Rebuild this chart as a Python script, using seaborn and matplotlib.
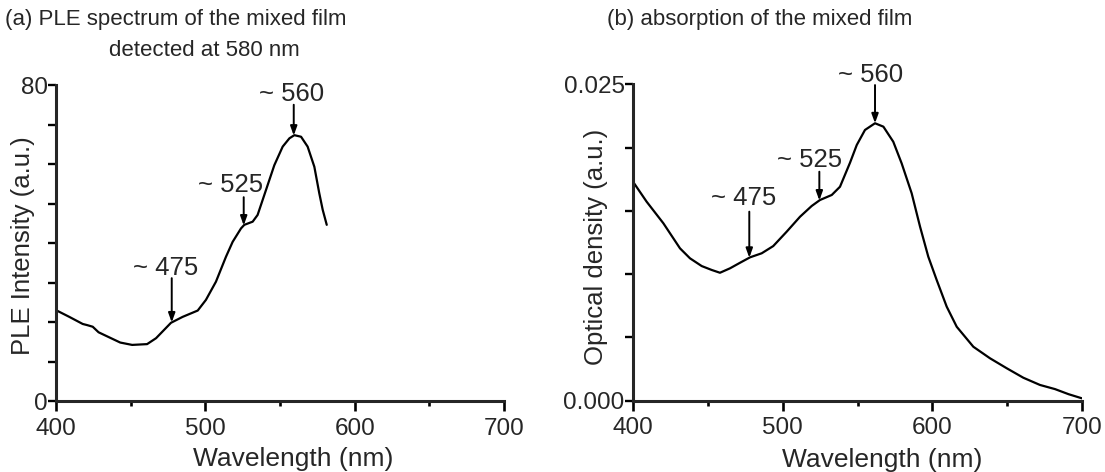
import numpy as np
import pandas as pd
import matplotlib
matplotlib.use("Agg")
import matplotlib.pyplot as plt
from matplotlib.ticker import MultipleLocator, FuncFormatter
import seaborn as sns

# ---- data ----
ple_wavelength = [400, 408.9, 417.9, 421, 424.6, 428.5, 433.5, 443, 451, 461, 467, 477, 484.8,
                  494.9, 500.4, 507.1, 513.8, 518.3, 523.9, 526.1, 531.7, 535, 540.6, 546.2,
                  551.8, 556.3, 559.6, 564.1, 568.5, 573, 576.3, 578.6, 581.3]
ple_intensity = [23.0, 21.3, 19.5, 19.2, 18.8, 17.4, 16.5, 14.8, 14.2, 14.4, 15.9, 19.8, 21.3,
                 22.9, 25.6, 30.2, 36.5, 40.3, 43.7, 44.6, 45.4, 47.1, 53.4, 59.7,
                 64.4, 66.5, 67.3, 66.9, 64.4, 59.3, 52.6, 48.4, 44.6]

abs_wavelength = [400, 409.1, 420.3, 431.4, 438.1, 445.9, 452.6, 458.1, 464.8, 471.5, 478.2,
                  486.0, 493.7, 502.7, 511.6, 519.4, 524.9, 532.8, 538.3, 545.0, 549.5,
                  555.0, 561.7, 567.3, 573.9, 579.5, 586.2, 591.8, 597.3, 602.9, 609.6,
                  616.3, 627.4, 638.5, 649.7, 660.8, 671.9, 682.0, 691.0, 700.0]
abs_density = [0.01730, 0.01572, 0.01401, 0.01203, 0.01124, 0.01063, 0.01032, 0.01010,
               0.01045, 0.01089, 0.01132, 0.01164, 0.01221, 0.01335, 0.01453, 0.01538,
               0.01585, 0.01625, 0.01690, 0.01880, 0.02020, 0.02139, 0.02192, 0.02165,
               0.02046, 0.01875, 0.01638, 0.01374, 0.01137, 0.00953, 0.00742, 0.00583,
               0.00425, 0.00334, 0.00255, 0.00180, 0.00123, 0.00090, 0.00050, 0.00017]

peak_labels = ["~ 475", "~ 525", "~ 560"]
# arrow x (nm), arrow tail height, label centre (nm, value)
ple_arrow_x = [477.5, 525.7, 559.2]
ple_arrow_top = [31.1, 51.6, 75.0]
ple_label_x = [473.7, 517.2, 557.8]
ple_label_y = [33.6, 54.7, 77.7]

abs_arrow_x = [477.7, 524.5, 561.7]
abs_arrow_top = [0.01493, 0.01809, 0.02494]
abs_label_x = [473.7, 518.3, 558.4]
abs_label_y = [0.01599, 0.01901, 0.02574]

title_a1 = "(a) PLE spectrum of the mixed film"
title_a2 = "detected at 580 nm"
title_b = "(b) absorption of the mixed film"

# ---- style ----
sns.set_style("ticks")
plt.rcParams["font.family"] = ["Liberation Sans", "DejaVu Sans"]
plt.rcParams["axes.linewidth"] = 2.2

W, H = 1105, 472
fig = plt.figure(figsize=(W / 100, H / 100), dpi=100)

def frac(x0, y0, x1, y1):
    return [x0 / W, 1 - y1 / H, (x1 - x0) / W, (y1 - y0) / H]

ax1 = fig.add_axes(frac(56, 85, 504, 401))
ax2 = fig.add_axes(frac(633, 84.3, 1082, 400.5))

df_ple = pd.DataFrame({"wl": ple_wavelength, "val": ple_intensity})
df_abs = pd.DataFrame({"wl": abs_wavelength, "val": abs_density})

sns.lineplot(data=df_ple, x="wl", y="val", ax=ax1, color="black", lw=1.6)
sns.lineplot(data=df_abs, x="wl", y="val", ax=ax2, color="black", lw=1.6)

def style_axes(ax, ymax, ystep, fmt):
    ax.set_xlim(400, 700)
    ax.set_ylim(0, ymax)
    for s in ["top", "right"]:
        ax.spines[s].set_visible(False)
    ax.xaxis.set_major_locator(MultipleLocator(100))
    ax.xaxis.set_minor_locator(MultipleLocator(50))
    ax.yaxis.set_major_locator(MultipleLocator(ystep))
    ax.yaxis.set_major_formatter(FuncFormatter(
        lambda v, p: fmt(v) if (abs(v) < 1e-12 or abs(v - ymax) < 1e-9) else ""))
    ax.tick_params(axis="x", which="major", direction="out", length=7, width=1.9,
                   labelsize=17.5, pad=5, color="black")
    ax.tick_params(axis="x", which="minor", direction="out", length=3.5, width=1.9,
                   color="black")
    ax.tick_params(axis="y", which="major", direction="out", length=6, width=1.7,
                   labelsize=17.5, pad=0, color="black")

style_axes(ax1, 80, 10, lambda v: f"{v:.0f}")
style_axes(ax2, 0.025, 0.005, lambda v: f"{v:.3f}")

def px_to_fig(x, y):
    return x / W, 1 - y / H

for ax, ylab, (lx, ly), (xx, xy) in [
        (ax1, "PLE Intensity (a.u.)", (23, 246), (293.5, 466)),
        (ax2, "Optical density (a.u.)", (596.5, 247), (882, 467))]:
    ax.set_ylabel(ylab, fontsize=18.5)
    ax.yaxis.set_label_coords(*px_to_fig(lx, ly), transform=fig.transFigure)
    ax.yaxis.label.set_va("center")
    ax.set_xlabel("Wavelength (nm)", fontsize=19)
    ax.xaxis.set_label_coords(*px_to_fig(xx, xy), transform=fig.transFigure)
    ax.xaxis.label.set_va("baseline")

def add_arrows(ax, xs, tops, lxs, lys, wl, vals):
    for lab, x, top, lx, ly in zip(peak_labels, xs, tops, lxs, lys):
        tip = np.interp(x, wl, vals)
        ax.annotate("", xy=(x, tip), xytext=(x, top),
                    arrowprops=dict(arrowstyle="-|>,head_length=0.55,head_width=0.2",
                                    color="black", lw=1.4, shrinkA=0, shrinkB=0))
        ax.text(lx, ly, lab, ha="center", va="center", fontsize=18.5)

add_arrows(ax1, ple_arrow_x, ple_arrow_top, ple_label_x, ple_label_y,
           ple_wavelength, ple_intensity)
add_arrows(ax2, abs_arrow_x, abs_arrow_top, abs_label_x, abs_label_y,
           abs_wavelength, abs_density)

fig.text(5 / W, 1 - 20 / H, title_a1, fontsize=16, ha="left", va="center")
fig.text(204 / W, 1 - 50 / H, title_a2, fontsize=16, ha="center", va="center")
fig.text(607 / W, 1 - 20 / H, title_b, fontsize=16, ha="left", va="center")

fig.savefig("out.png", dpi=100)
